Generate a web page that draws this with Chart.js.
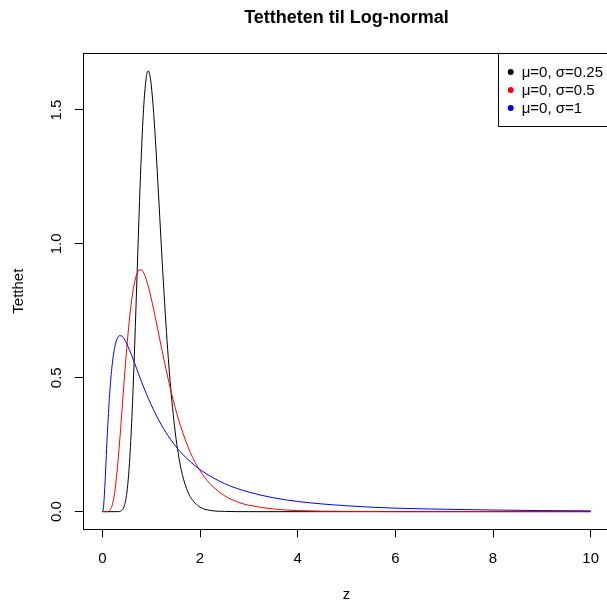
<!DOCTYPE html>
<html>
<head>
<meta charset="utf-8">
<script src="https://cdn.jsdelivr.net/npm/chart.js@4.4.1/dist/chart.umd.min.js"></script>
<style>
  html, body { margin: 0; padding: 0; background: #fff; overflow: hidden; }
  canvas { display: block; }
</style>
</head>
<body>
<canvas id="myChart" width="611" height="605"></canvas>
<script>
// values
const titleText = 'Tettheten til Log-normal'
const xLabel = 'z'
const yLabel = 'Tetthet'
const xTicks = [0, 2, 4, 6, 8, 10]
const yTicks = [0, 0.5, 1.0, 1.5]

const labels = ['\u03bc=0, \u03c3=0.25', '\u03bc=0, \u03c3=0.5', '\u03bc=0, \u03c3=1']
const colors = ['black', 'red', 'blue']

const zBlack = [0, 0.3, 0.4, 0.45, 0.5, 0.55, 0.6, 0.65, 0.7, 0.75, 0.8, 0.85, 0.9, 0.94, 0.975, 1.0, 1.05, 1.1, 1.15, 1.2, 1.25, 1.3, 1.35, 1.4, 1.5, 1.6, 1.7, 1.8, 2.0, 2.2, 2.5, 3, 10]
const dBlack = [0, 0, 0.005, 0.022, 0.068, 0.166, 0.330, 0.556, 0.824, 1.098, 1.340, 1.520, 1.622, 1.646, 1.628, 1.596, 1.491, 1.349, 1.187, 1.019, 0.857, 0.708, 0.575, 0.461, 0.286, 0.170, 0.099, 0.056, 0.017, 0.005, 0.001, 0, 0]

const zRed = [0, 0.1, 0.15, 0.2, 0.25, 0.3, 0.35, 0.4, 0.45, 0.5, 0.55, 0.6, 0.65, 0.7, 0.75, 0.8, 0.85, 0.9, 1.0, 1.1, 1.2, 1.3, 1.4, 1.5, 1.6, 1.8, 2.0, 2.2, 2.5, 2.8, 3.0, 3.5, 4.0, 5, 6, 10]
const dRed = [0, 0, 0.004, 0.023, 0.068, 0.147, 0.252, 0.372, 0.495, 0.610, 0.710, 0.789, 0.847, 0.884, 0.902, 0.903, 0.891, 0.867, 0.798, 0.712, 0.622, 0.535, 0.455, 0.383, 0.321, 0.222, 0.153, 0.105, 0.060, 0.034, 0.024, 0.010, 0.004, 0.001, 0, 0]

const zBlue = [0, 0.02, 0.05, 0.1, 0.15, 0.2, 0.25, 0.3, 0.35, 0.4, 0.45, 0.5, 0.6, 0.7, 0.8, 0.9, 1.0, 1.2, 1.4, 1.6, 1.8, 2.0, 2.5, 3, 3.5, 4, 5, 6, 7, 8, 9, 10]
const dBlue = [0, 0.010, 0.090, 0.282, 0.440, 0.546, 0.610, 0.644, 0.657, 0.656, 0.645, 0.627, 0.584, 0.535, 0.486, 0.441, 0.399, 0.327, 0.269, 0.223, 0.187, 0.157, 0.105, 0.073, 0.052, 0.038, 0.022, 0.013, 0.009, 0.006, 0.004, 0.003]

const series = [[zBlack, dBlack], [zRed, dRed], [zBlue, dBlue]]

const FONT = '"Liberation Sans", Arial, sans-serif'

// R-style box, axis labels, title and legend
const rStyle = {
    id: 'rStyle',
    afterDraw(chart) {
        const {ctx, chartArea: a, scales: {x, y}} = chart
        ctx.save()
        ctx.strokeStyle = '#000'
        ctx.lineWidth = 1
        ctx.strokeRect(Math.round(a.left) + 0.5, Math.round(a.top) + 0.5, a.right - a.left, Math.round(a.bottom) - Math.round(a.top))

        ctx.fillStyle = '#000'
        ctx.font = '15px ' + FONT
        ctx.textAlign = 'center'
        ctx.textBaseline = 'alphabetic'
        xTicks.forEach((v) => ctx.fillText(String(v), x.getPixelForValue(v), 563))
        yTicks.forEach((v) => {
            ctx.save()
            ctx.translate(61, y.getPixelForValue(v))
            ctx.rotate(-Math.PI / 2)
            ctx.fillText(v.toFixed(1), 0, 0)
            ctx.restore()
        })
        const cx = (a.left + a.right) / 2
        ctx.fillText(xLabel, cx, 599)
        ctx.save()
        ctx.translate(23, (a.top + a.bottom) / 2)
        ctx.rotate(-Math.PI / 2)
        ctx.fillText(yLabel, 0, 0)
        ctx.restore()

        ctx.font = 'bold 18px ' + FONT
        ctx.fillText(titleText, cx, 23)

        // legend
        ctx.fillStyle = '#fff'
        ctx.fillRect(498.5, Math.round(a.top) + 0.5, a.right - 498.5, 126 - Math.round(a.top))
        ctx.strokeRect(498.5, Math.round(a.top) + 0.5, a.right - 498.5, 126 - Math.round(a.top))
        ctx.font = '15px ' + FONT
        ctx.textAlign = 'left'
        ctx.textBaseline = 'middle'
        labels.forEach((lab, i) => {
            const ry = 72 + i * 18
            ctx.fillStyle = colors[i]
            ctx.beginPath()
            ctx.arc(510.7, ry, 3, 0, Math.PI * 2)
            ctx.fill()
            ctx.fillStyle = '#000'
            ctx.fillText(lab, 521.7, ry + 1)
        })
        ctx.restore()
    }
}

const ctx = document.getElementById('myChart')
const myChart = new Chart(ctx, {
    type: 'line',
    data: {
        datasets: series.map((s, i) => ({
            label: labels[i],
            data: s[0].map((z, j) => ({x: z, y: s[1][j]})),
            borderColor: colors[i],
            backgroundColor: colors[i],
            borderWidth: 1,
            pointRadius: 0,
            fill: false,
            cubicInterpolationMode: 'monotone',
            order: 3 - i
        }))
    },
    options: {
        responsive: false,
        animation: false,
        events: [],
        layout: {padding: {top: 53.1, right: 0.8, left: 0, bottom: 0}},
        plugins: {legend: {display: false}, title: {display: false}, tooltip: {enabled: false}},
        scales: {
            x: {
                type: 'linear',
                min: -0.4,
                max: 10.4,
                afterBuildTicks: (scale) => { scale.ticks = xTicks.map((v) => ({value: v})) },
                afterFit: (scale) => { scale.height = 75.7 },
                ticks: {display: false},
                border: {display: false},
                grid: {drawOnChartArea: false, drawTicks: true, tickLength: 8, color: '#000'}
            },
            y: {
                type: 'linear',
                min: -0.0659,
                max: 1.7124,
                afterBuildTicks: (scale) => { scale.ticks = yTicks.map((v) => ({value: v})) },
                afterFit: (scale) => { scale.width = 82.8 },
                ticks: {display: false},
                border: {display: false},
                grid: {drawOnChartArea: false, drawTicks: true, tickLength: 8, color: '#000'}
            }
        }
    },
    plugins: [rStyle]
})
</script>
</body>
</html>
